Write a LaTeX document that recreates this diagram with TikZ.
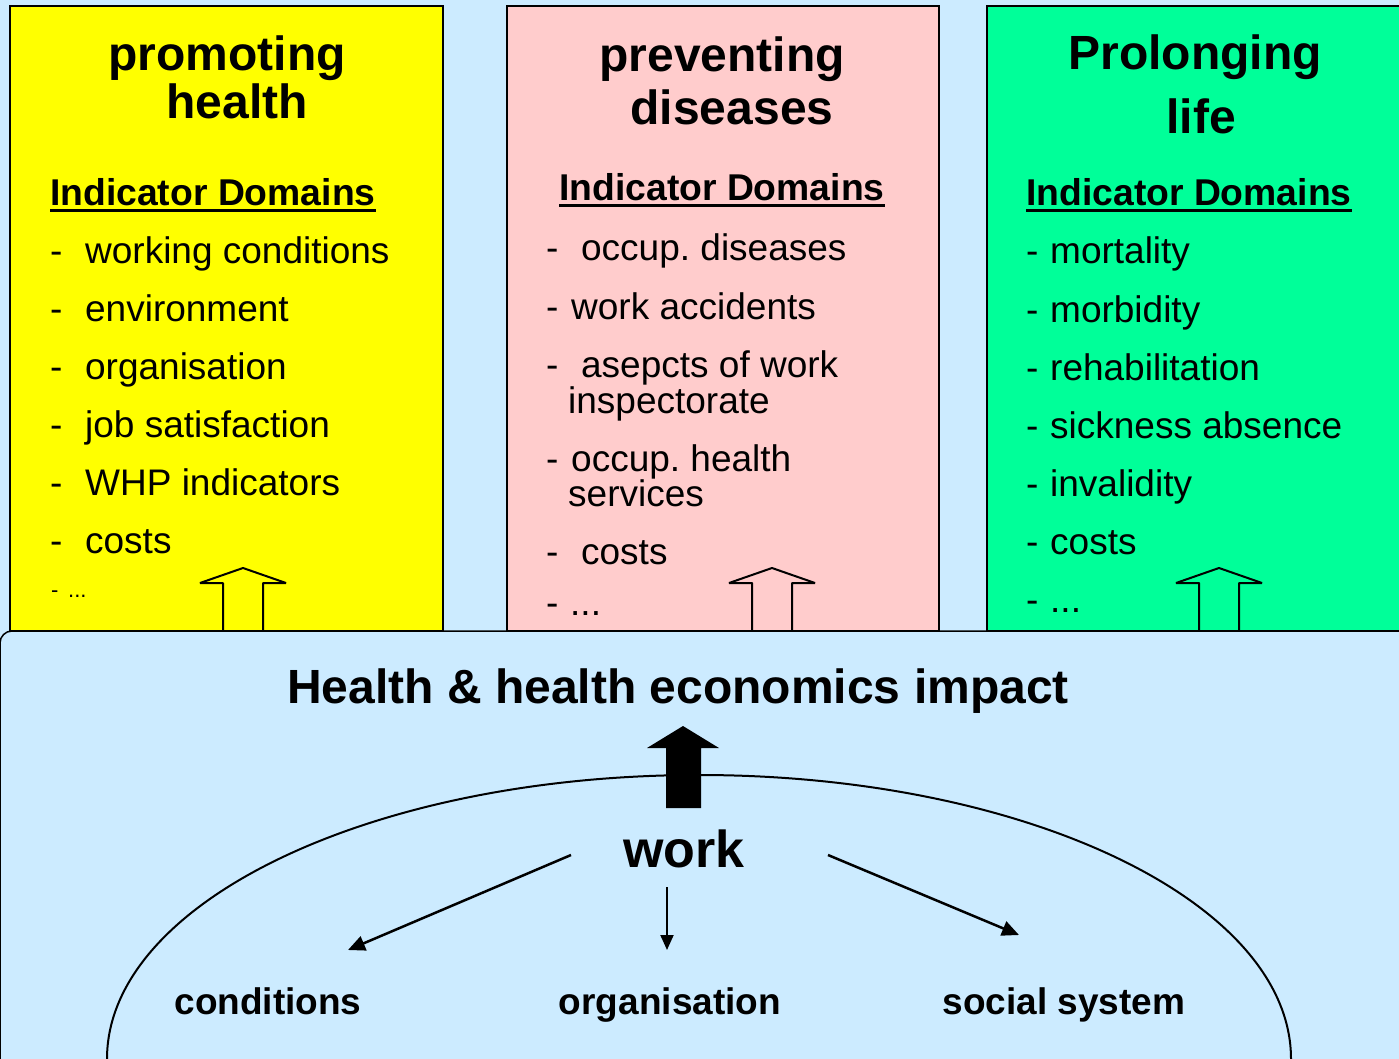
\documentclass[tikz,border=0pt]{standalone}
\usepackage{fontspec}
\setmainfont{Liberation Sans}
\usetikzlibrary{arrows.meta}
\definecolor{skyb}{RGB}{204,235,255}
\definecolor{ylw}{RGB}{255,255,0}
\definecolor{pnk}{RGB}{255,204,204}
\definecolor{grn}{RGB}{0,255,153}
\frenchspacing
% underlined heading of each column
\newcommand\domline[1]{\setbox0\hbox{#1}\rlap{\rule[-6pt]{\wd0}{3pt}}\box0}
\tikzset{
  itm/.style={anchor=base west,inner sep=0pt,font=\fontsize{37}{37}\selectfont},
  ttl/.style={anchor=base,inner sep=0pt,font=\fontsize{48}{48}\selectfont\bfseries},
  dom/.style={anchor=base west,inner sep=0pt,font=\fontsize{37.3}{37}\selectfont\bfseries},
  lbl/.style={anchor=base,inner sep=0pt,font=\fontsize{37}{37}\selectfont\bfseries},
  colbox/.style={draw,line width=1.5pt},
  thin/.style={line width=2.5pt,-{Triangle[length=17pt,width=15pt]}},
}
\begin{document}
\begin{tikzpicture}[x=1pt,y=-1pt]
    \useasboundingbox (0,0) rectangle (1399,1059);
    \clip (0,0) rectangle (1399,1059);
    \fill[skyb] (0,0) rectangle (1399,1059);
    % the three columns
    \draw[colbox,fill=ylw] (10,6) rectangle (443,631);
    \draw[colbox,fill=pnk] (507,6) rectangle (939,631);
    \draw[colbox,fill=grn] (987,6) rectangle (1430,631);
    % promoting health
    \node[ttl] (t1a) at (227,71) {promoting};
    \node[ttl] (t1b) at (237,119) {health};
    \node[dom] (d1) at (50,206) {\domline{Indicator Domains}};
    \node[itm] (y1) at (50,263) {\makebox[35pt][l]{-}working conditions};
    \node[itm] (y2) at (50,321) {\makebox[35pt][l]{-}environment};
    \node[itm] (y3) at (50,379) {\makebox[35pt][l]{-}organisation};
    \node[itm] (y4) at (50,437) {\makebox[35pt][l]{-}job satisfaction};
    \node[itm] (y5) at (50,495) {\makebox[35pt][l]{-}WHP indicators};
    \node[itm] (y6) at (50,553) {\makebox[35pt][l]{-}costs};
    \node[itm,font=\fontsize{22}{22}\selectfont] (y7) at (51,597) {\makebox[17pt][l]{-}...};
    % preventing diseases
    \node[ttl] (t2a) at (722,72) {preventing};
    \node[ttl] (t2b) at (732,125) {diseases};
    \node[dom] (d2) at (559,201) {\domline{Indicator Domains}};
    \node[itm] (p1) at (546,261) {\makebox[35pt][l]{-}occup. diseases};
    \node[itm] (p2) at (546,319) {\makebox[25pt][l]{-}work accidents};
    \node[itm] (p3) at (546,377) {\makebox[35pt][l]{-}asepcts of work};
    \node[itm] (p3b) at (568,413) {inspectorate};
    \node[itm] (p4) at (546,471) {\makebox[25pt][l]{-}occup. health};
    \node[itm] (p4b) at (568,506) {services};
    \node[itm] (p5) at (546,564) {\makebox[35pt][l]{-}costs};
    \node[itm] (p6) at (546,615) {\makebox[24pt][l]{-}...};
    % prolonging life
    \node[ttl] (t3a) at (1195,70) {Prolonging};
    \node[ttl] (t3b) at (1201,134) {life};
    \node[dom] (d3) at (1026,206) {\domline{Indicator Domains}};
    \node[itm] (g1) at (1026,264) {\makebox[24pt][l]{-}mortality};
    \node[itm] (g2) at (1026,322) {\makebox[24pt][l]{-}morbidity};
    \node[itm] (g3) at (1026,380) {\makebox[24pt][l]{-}rehabilitation};
    \node[itm] (g4) at (1026,438) {\makebox[24pt][l]{-}sickness absence};
    \node[itm] (g5) at (1026,496) {\makebox[24pt][l]{-}invalidity};
    \node[itm] (g6) at (1026,554) {\makebox[24pt][l]{-}costs};
    \node[itm] (g7) at (1026,612) {\makebox[24pt][l]{-}...};
    % hollow arrows up into the columns
    \foreach \ax in {243,772,1219}
        \draw[line width=2pt,line join=bevel] (\ax,568) -- ++(43,15) -- ++(-23,0) -- ++(0,48)%
        -- ++(-40,0) -- ++(0,-48) -- ++(-23,0) -- cycle;
    % lower panel
    \draw[fill=skyb,line width=1.5pt,rounded corners=12pt] (0,631) rectangle (1430,1100);
    \draw[line width=2pt] (699,1059) ellipse [x radius=592, y radius=284];
    \node[lbl,font=\fontsize{48}{48}\selectfont\bfseries] (impact) at (678,703) {Health \& health economics impact};
    \fill (683,726) -- (719,748) -- (701,748) -- (701,808) -- (666,808) -- (666,748) -- (647,748) -- cycle;
    \node[lbl,font=\fontsize{52}{52}\selectfont\bfseries] (work) at (684,867) {work};
    \node[lbl] (cond) at (268,1014) {conditions};
    \node[lbl] (orga) at (670,1014) {organisation};
    \node[lbl] (soc) at (1064,1014) {social system};
    \coordinate (wl) at (571,855);
    \coordinate (wm) at (667,887);
    \coordinate (wr) at (828,855);
    \coordinate (cl) at (348,950);
    \coordinate (cm) at (667,950);
    \coordinate (cr) at (1019,935);
    \draw[thin] (wl) -- (cl);
    \draw[line width=2pt,-{Triangle[length=15pt,width=13pt]}] (wm) -- (cm);
    \draw[thin] (wr) -- (cr);
\end{tikzpicture}
\end{document}
